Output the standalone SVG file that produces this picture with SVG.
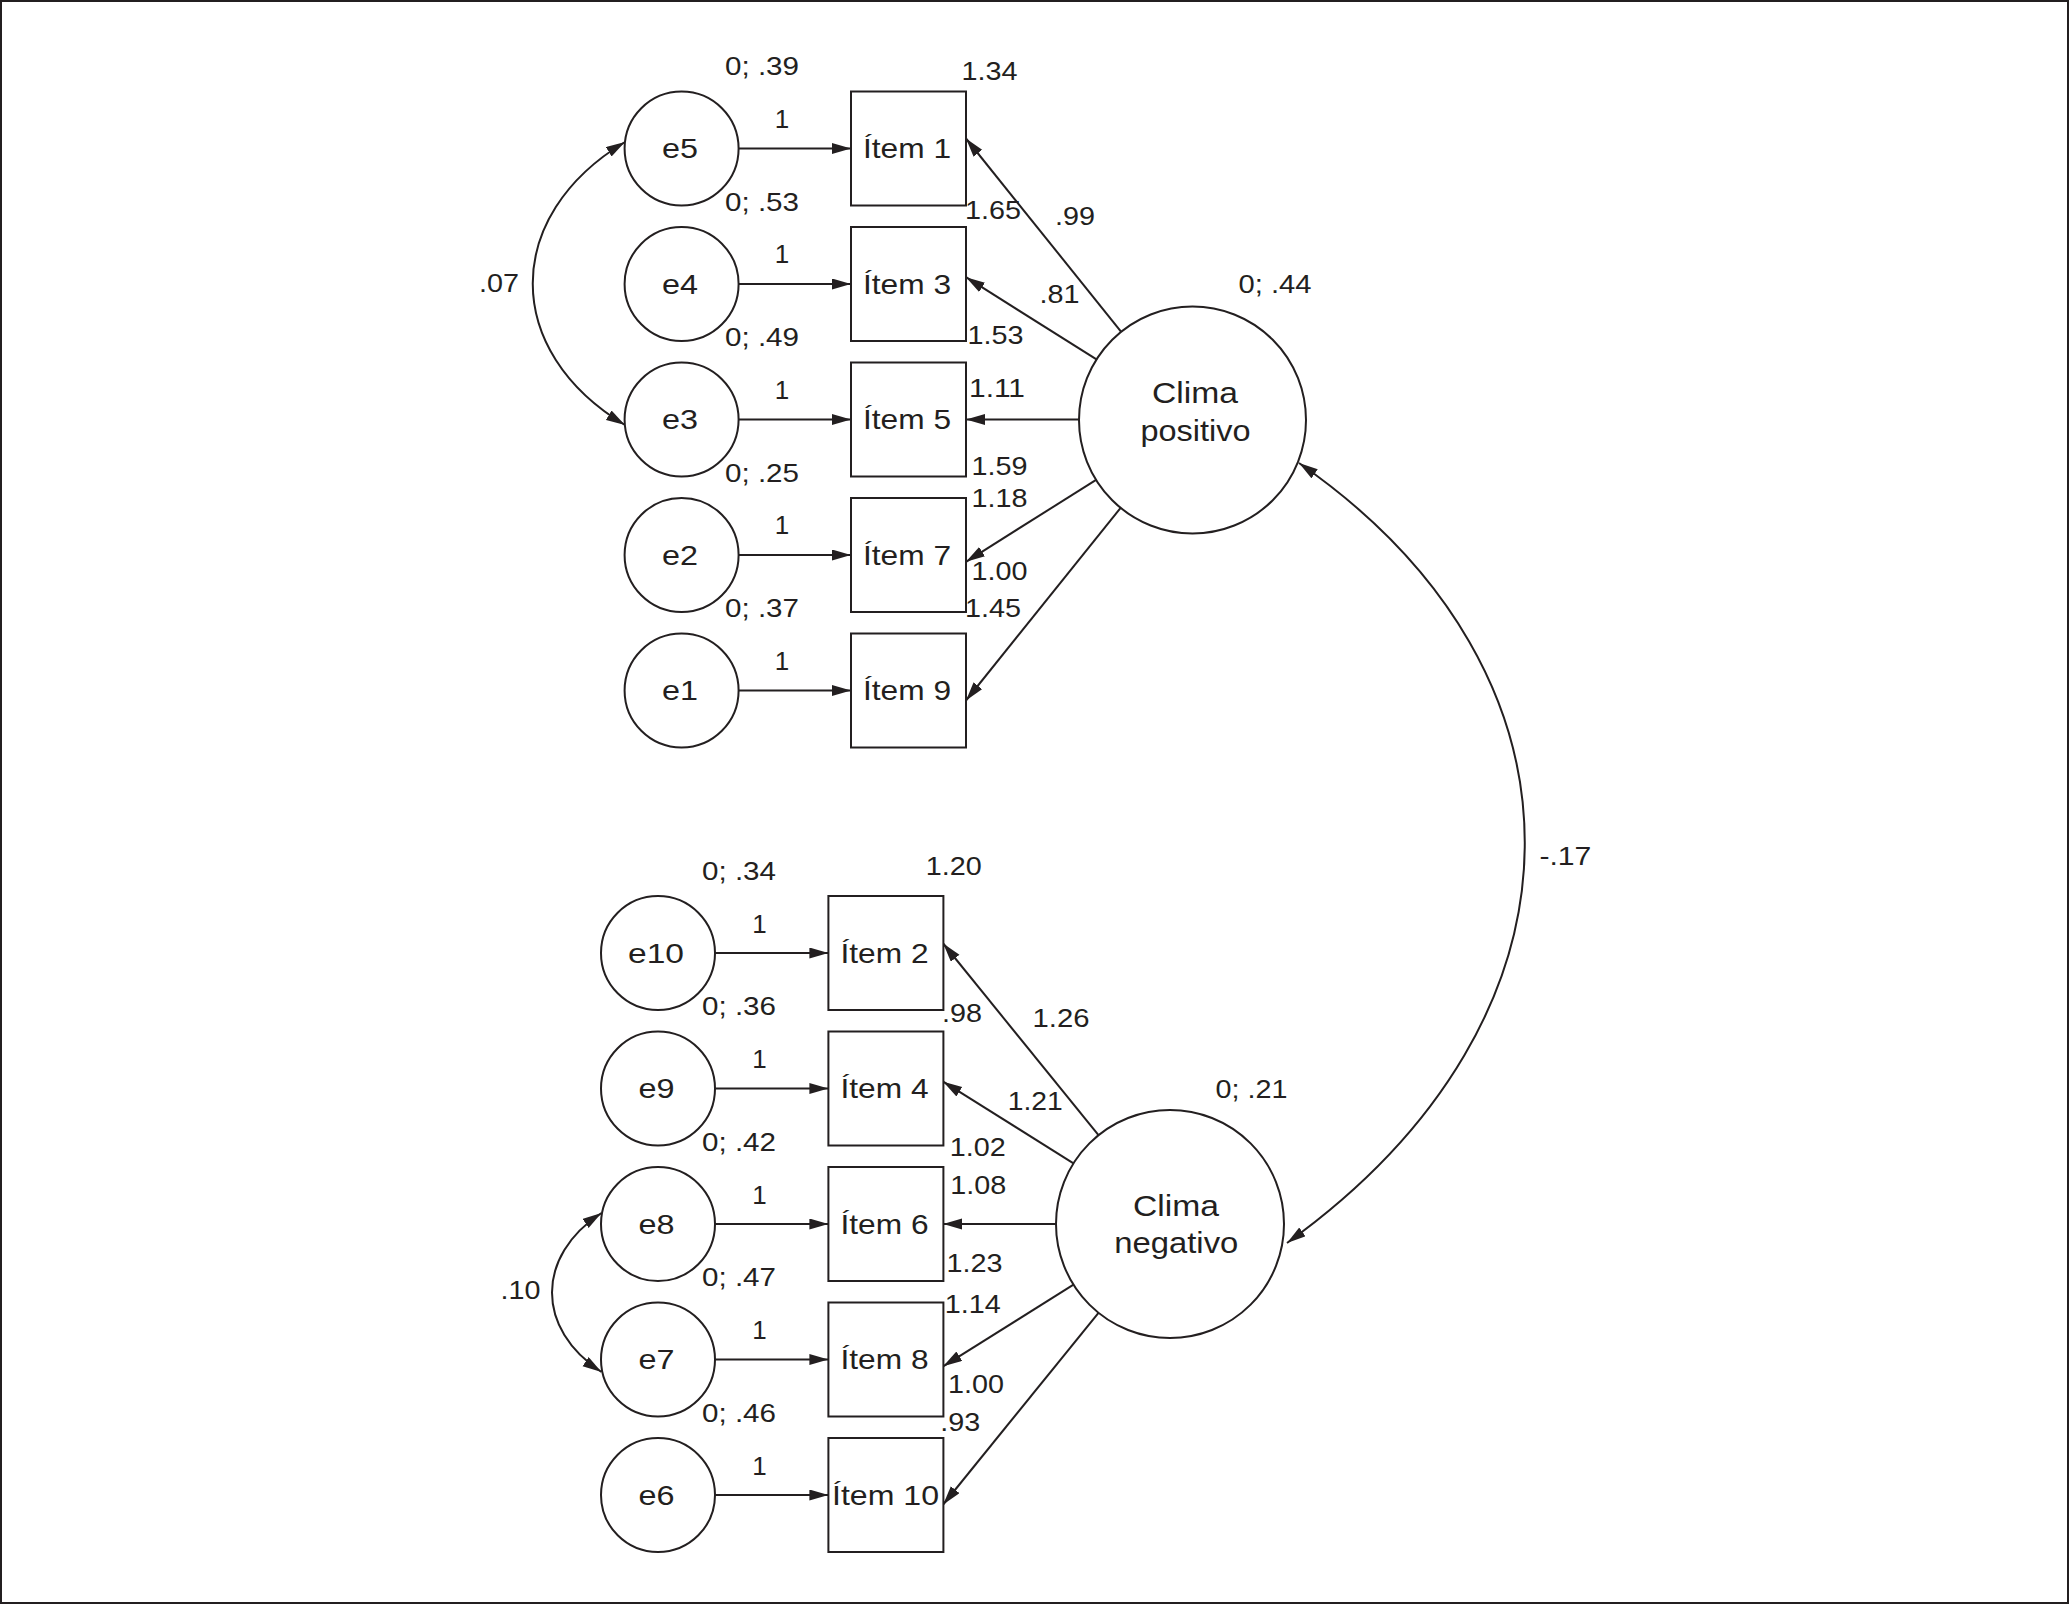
<svg xmlns="http://www.w3.org/2000/svg" width="2069" height="1604" viewBox="0 0 2069 1604">
<defs>
<style>
text{font-family:"Liberation Sans",Arial,Helvetica,sans-serif;fill:#231f20;text-anchor:middle}
.lbl{font-size:26px}
.nl{font-size:28px}
.lat{font-size:29px}
.shape{fill:#fff;stroke:#231f20;stroke-width:2}
.conn path{fill:none;stroke:#231f20;stroke-width:2}
.arr{marker-end:url(#ah)}
.bi{marker-start:url(#ah);marker-end:url(#ah)}
</style>
<marker id="ah" markerUnits="userSpaceOnUse" markerWidth="20" markerHeight="12" refX="19" refY="5.5" orient="auto-start-reverse">
<path d="M0,0 L19,5.5 L0,11 Z" fill="#231f20"/>
</marker>
</defs>
<rect x="1" y="1" width="2067" height="1602" fill="#fff" stroke="#231f20" stroke-width="2"/>

<g id="connectors" class="conn">
<!-- upper error arrows -->
<path class="arr" d="M738.6,148.5 L851,148.5"/>
<path class="arr" d="M738.6,284 L851,284"/>
<path class="arr" d="M738.6,419.5 L851,419.5"/>
<path class="arr" d="M738.6,555 L851,555"/>
<path class="arr" d="M738.6,690.5 L851,690.5"/>
<!-- lower error arrows -->
<path class="arr" d="M715,953 L828.4,953"/>
<path class="arr" d="M715,1088.5 L828.4,1088.5"/>
<path class="arr" d="M715,1224 L828.4,1224"/>
<path class="arr" d="M715,1359.5 L828.4,1359.5"/>
<path class="arr" d="M715,1495 L828.4,1495"/>
<!-- Clima positivo loadings -->
<path class="arr" d="M1121,331.6 L966,138.5"/>
<path class="arr" d="M1096.5,359.4 L966,277.2"/>
<path class="arr" d="M1079,419.5 L966,419.5"/>
<path class="arr" d="M1096.5,479.6 L966,561.8"/>
<path class="arr" d="M1121,507.4 L966,700.5"/>
<!-- Clima negativo loadings -->
<path class="arr" d="M1098.5,1135.2 L943.2,943.5"/>
<path class="arr" d="M1073.5,1163.3 L943.2,1081.7"/>
<path class="arr" d="M1056,1224 L943.2,1224"/>
<path class="arr" d="M1073.5,1284.7 L943.2,1366.3"/>
<path class="arr" d="M1098.5,1312.8 L943.2,1504.5"/>
<!-- covariances -->
<path class="bi" d="M625,142 C502,216 502,351 625,425"/>
<path class="bi" d="M601.5,1213 C535.5,1256 535.5,1329 601.5,1372"/>
<path class="bi" d="M1299,463 C1602,673 1602,1017 1287,1243"/>
</g>

<!-- upper error nodes -->
<g id="e5"><circle class="shape" cx="681.6" cy="148.5" r="57"/><text class="nl" x="680" y="158.3" textLength="36" lengthAdjust="spacingAndGlyphs">e5</text></g>
<g id="e4"><circle class="shape" cx="681.6" cy="284" r="57"/><text class="nl" x="680" y="293.8" textLength="36" lengthAdjust="spacingAndGlyphs">e4</text></g>
<g id="e3"><circle class="shape" cx="681.6" cy="419.5" r="57"/><text class="nl" x="680" y="429.3" textLength="36" lengthAdjust="spacingAndGlyphs">e3</text></g>
<g id="e2"><circle class="shape" cx="681.6" cy="555" r="57"/><text class="nl" x="680" y="564.8" textLength="36" lengthAdjust="spacingAndGlyphs">e2</text></g>
<g id="e1"><circle class="shape" cx="681.6" cy="690.5" r="57"/><text class="nl" x="680" y="700.3" textLength="36" lengthAdjust="spacingAndGlyphs">e1</text></g>

<!-- upper items -->
<g id="item1"><rect class="shape" x="851" y="91.5" width="115" height="114"/><text class="nl" x="907" y="158.3" textLength="88" lengthAdjust="spacingAndGlyphs">Ítem 1</text></g>
<g id="item3"><rect class="shape" x="851" y="227" width="115" height="114"/><text class="nl" x="907" y="293.8" textLength="88" lengthAdjust="spacingAndGlyphs">Ítem 3</text></g>
<g id="item5"><rect class="shape" x="851" y="362.5" width="115" height="114"/><text class="nl" x="907" y="429.3" textLength="88" lengthAdjust="spacingAndGlyphs">Ítem 5</text></g>
<g id="item7"><rect class="shape" x="851" y="498" width="115" height="114"/><text class="nl" x="907" y="564.8" textLength="88" lengthAdjust="spacingAndGlyphs">Ítem 7</text></g>
<g id="item9"><rect class="shape" x="851" y="633.5" width="115" height="114"/><text class="nl" x="907" y="700.3" textLength="88" lengthAdjust="spacingAndGlyphs">Ítem 9</text></g>

<!-- Clima positivo -->
<g id="clima-positivo"><circle class="shape" cx="1192.5" cy="420" r="113.5"/><text class="lat" x="1195" y="402.7" textLength="86" lengthAdjust="spacingAndGlyphs">Clima</text><text class="lat" x="1195.5" y="441" textLength="110" lengthAdjust="spacingAndGlyphs">positivo</text></g>

<!-- lower error nodes -->
<g id="e10"><circle class="shape" cx="658" cy="953" r="57"/><text class="nl" x="656" y="962.8" textLength="56" lengthAdjust="spacingAndGlyphs">e10</text></g>
<g id="e9"><circle class="shape" cx="658" cy="1088.5" r="57"/><text class="nl" x="656.5" y="1098.3" textLength="36" lengthAdjust="spacingAndGlyphs">e9</text></g>
<g id="e8"><circle class="shape" cx="658" cy="1224" r="57"/><text class="nl" x="656.5" y="1233.8" textLength="36" lengthAdjust="spacingAndGlyphs">e8</text></g>
<g id="e7"><circle class="shape" cx="658" cy="1359.5" r="57"/><text class="nl" x="656.5" y="1369.3" textLength="36" lengthAdjust="spacingAndGlyphs">e7</text></g>
<g id="e6"><circle class="shape" cx="658" cy="1495" r="57"/><text class="nl" x="656.5" y="1504.8" textLength="36" lengthAdjust="spacingAndGlyphs">e6</text></g>

<!-- lower items -->
<g id="item2"><rect class="shape" x="828.4" y="896" width="115" height="114"/><text class="nl" x="884.5" y="962.8" textLength="88" lengthAdjust="spacingAndGlyphs">Ítem 2</text></g>
<g id="item4"><rect class="shape" x="828.4" y="1031.5" width="115" height="114"/><text class="nl" x="884.5" y="1098.3" textLength="88" lengthAdjust="spacingAndGlyphs">Ítem 4</text></g>
<g id="item6"><rect class="shape" x="828.4" y="1167" width="115" height="114"/><text class="nl" x="884.5" y="1233.8" textLength="88" lengthAdjust="spacingAndGlyphs">Ítem 6</text></g>
<g id="item8"><rect class="shape" x="828.4" y="1302.5" width="115" height="114"/><text class="nl" x="884.5" y="1369.3" textLength="88" lengthAdjust="spacingAndGlyphs">Ítem 8</text></g>
<g id="item10"><rect class="shape" x="828.4" y="1438" width="115" height="114"/><text class="nl" x="885.5" y="1504.8" textLength="107" lengthAdjust="spacingAndGlyphs">Ítem 10</text></g>

<!-- Clima negativo -->
<g id="clima-negativo"><circle class="shape" cx="1170" cy="1224" r="114"/><text class="lat" x="1176" y="1215.7" textLength="86" lengthAdjust="spacingAndGlyphs">Clima</text><text class="lat" x="1176.3" y="1253.3" textLength="124" lengthAdjust="spacingAndGlyphs">negativo</text></g>

<g id="labels" class="lbl">
<!-- upper -->
<text class="lbl" x="762" y="75" textLength="74" lengthAdjust="spacingAndGlyphs">0; .39</text>
<text class="lbl" x="762" y="210.7" textLength="74" lengthAdjust="spacingAndGlyphs">0; .53</text>
<text class="lbl" x="762" y="345.7" textLength="74" lengthAdjust="spacingAndGlyphs">0; .49</text>
<text class="lbl" x="762" y="481.7" textLength="74" lengthAdjust="spacingAndGlyphs">0; .25</text>
<text class="lbl" x="762" y="616.7" textLength="74" lengthAdjust="spacingAndGlyphs">0; .37</text>
<text class="lbl" x="782" y="127.5">1</text>
<text class="lbl" x="782" y="263">1</text>
<text class="lbl" x="782" y="398.5">1</text>
<text class="lbl" x="782" y="534">1</text>
<text class="lbl" x="782" y="669.5">1</text>
<text class="lbl" x="989.4" y="79.5" textLength="56" lengthAdjust="spacingAndGlyphs">1.34</text>
<text class="lbl" x="993" y="219" textLength="56" lengthAdjust="spacingAndGlyphs">1.65</text>
<text class="lbl" x="1075" y="225" textLength="40" lengthAdjust="spacingAndGlyphs">.99</text>
<text class="lbl" x="1059.5" y="303.3" textLength="40" lengthAdjust="spacingAndGlyphs">.81</text>
<text class="lbl" x="1275" y="293.3" textLength="73" lengthAdjust="spacingAndGlyphs">0; .44</text>
<text class="lbl" x="995.5" y="344" textLength="56" lengthAdjust="spacingAndGlyphs">1.53</text>
<text class="lbl" x="997" y="397" textLength="56" lengthAdjust="spacingAndGlyphs">1.11</text>
<text class="lbl" x="999.5" y="475" textLength="56" lengthAdjust="spacingAndGlyphs">1.59</text>
<text class="lbl" x="999.5" y="507.3" textLength="56" lengthAdjust="spacingAndGlyphs">1.18</text>
<text class="lbl" x="999.5" y="580" textLength="56" lengthAdjust="spacingAndGlyphs">1.00</text>
<text class="lbl" x="993" y="616.7" textLength="56" lengthAdjust="spacingAndGlyphs">1.45</text>
<text class="lbl" x="499" y="291.7" textLength="40" lengthAdjust="spacingAndGlyphs">.07</text>
<!-- lower -->
<text class="lbl" x="739" y="880" textLength="74" lengthAdjust="spacingAndGlyphs">0; .34</text>
<text class="lbl" x="739" y="1015" textLength="74" lengthAdjust="spacingAndGlyphs">0; .36</text>
<text class="lbl" x="739" y="1150.7" textLength="74" lengthAdjust="spacingAndGlyphs">0; .42</text>
<text class="lbl" x="739" y="1286" textLength="74" lengthAdjust="spacingAndGlyphs">0; .47</text>
<text class="lbl" x="739" y="1421.7" textLength="74" lengthAdjust="spacingAndGlyphs">0; .46</text>
<text class="lbl" x="759.5" y="932.5">1</text>
<text class="lbl" x="759.5" y="1068">1</text>
<text class="lbl" x="759.5" y="1203.5">1</text>
<text class="lbl" x="759.5" y="1339">1</text>
<text class="lbl" x="759.5" y="1474.5">1</text>
<text class="lbl" x="953.7" y="875" textLength="56" lengthAdjust="spacingAndGlyphs">1.20</text>
<text class="lbl" x="962" y="1021.7" textLength="40" lengthAdjust="spacingAndGlyphs">.98</text>
<text class="lbl" x="1061" y="1026.7" textLength="57" lengthAdjust="spacingAndGlyphs">1.26</text>
<text class="lbl" x="1035.3" y="1110" textLength="55" lengthAdjust="spacingAndGlyphs">1.21</text>
<text class="lbl" x="1251.5" y="1098.3" textLength="72" lengthAdjust="spacingAndGlyphs">0; .21</text>
<text class="lbl" x="977.8" y="1156" textLength="56" lengthAdjust="spacingAndGlyphs">1.02</text>
<text class="lbl" x="978.3" y="1194" textLength="56" lengthAdjust="spacingAndGlyphs">1.08</text>
<text class="lbl" x="974.4" y="1271.7" textLength="56" lengthAdjust="spacingAndGlyphs">1.23</text>
<text class="lbl" x="972.8" y="1312.7" textLength="56" lengthAdjust="spacingAndGlyphs">1.14</text>
<text class="lbl" x="976" y="1393.3" textLength="56" lengthAdjust="spacingAndGlyphs">1.00</text>
<text class="lbl" x="960.3" y="1430.7" textLength="40" lengthAdjust="spacingAndGlyphs">.93</text>
<text class="lbl" x="520.5" y="1299.3" textLength="40" lengthAdjust="spacingAndGlyphs">.10</text>
<text class="lbl" x="1565.4" y="865" textLength="52" lengthAdjust="spacingAndGlyphs">-.17</text>
</g>
</svg>
